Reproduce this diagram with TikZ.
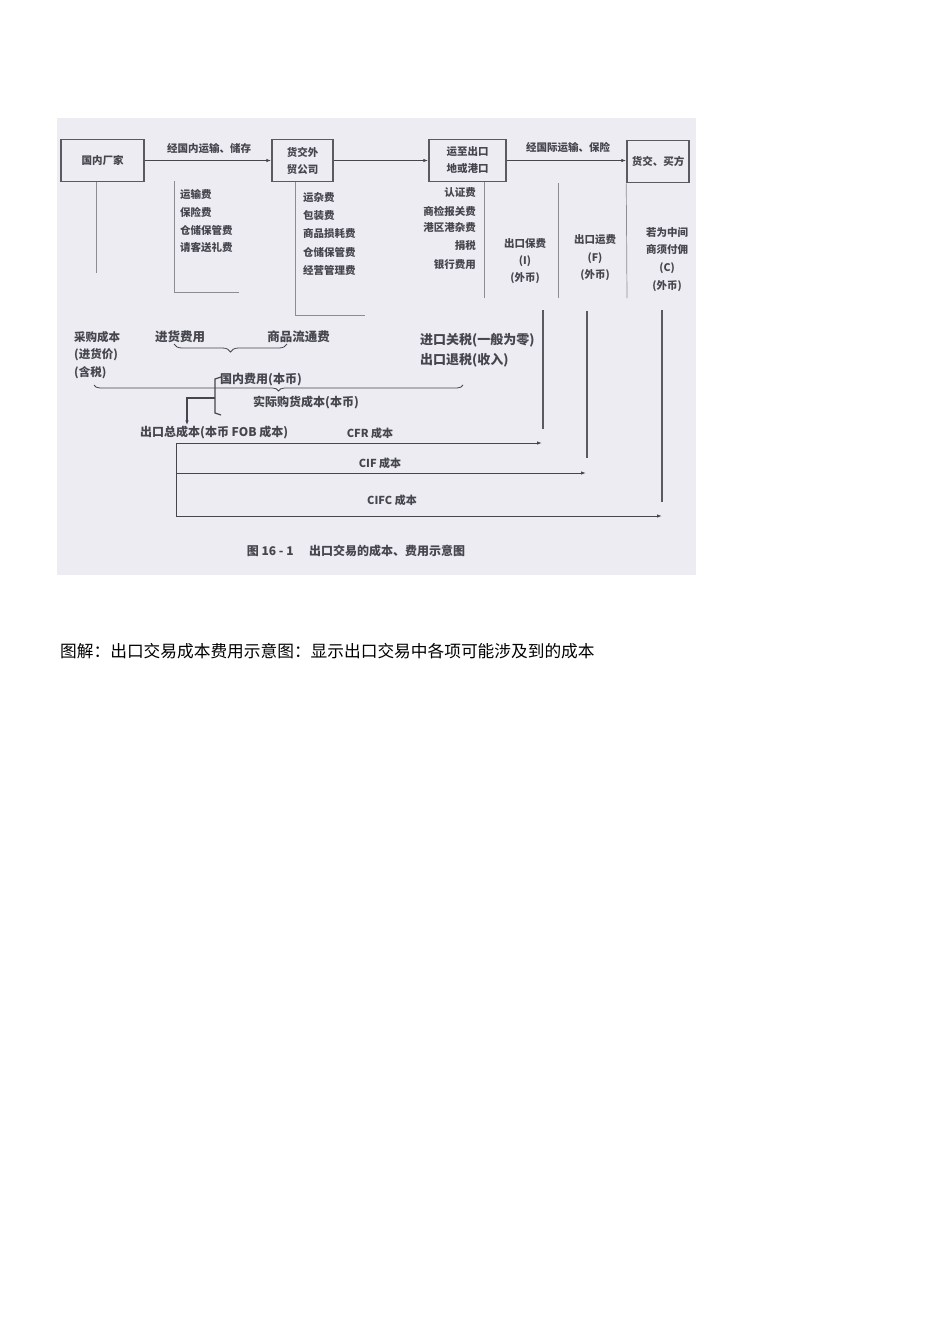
\documentclass[tikz,border=0pt]{standalone}
\usepackage{fontspec}
\setmainfont{Noto Sans CJK SC}
\usetikzlibrary{arrows.meta,decorations.pathreplacing}
\definecolor{bgc}{HTML}{EDECF3}
\definecolor{ink}{HTML}{46464E}
\definecolor{lineg}{HTML}{8C8C94}
\definecolor{thk}{HTML}{5A5A62}
\tikzset{
  box/.style={draw=thk, line width=1.5pt, minimum width=#1, minimum height=42pt, inner sep=0pt, align=center, text=ink, font=\bfseries\fontsize{10.5}{17}\selectfont},
  sm/.style={inner sep=0pt, text=ink, font=\bfseries\fontsize{10.5}{12}\selectfont},
  md/.style={inner sep=0pt, text=ink, font=\bfseries\fontsize{12}{14}\selectfont},
  thin/.style={draw=lineg, line width=0.7pt},
  heavy/.style={draw=thk, line width=1.6pt},
  arr/.style={draw=ink, line width=0.9pt, -{Latex[length=5pt,width=3.5pt]}},
  brc/.style={draw=ink, line width=0.8pt, decorate, decoration={brace, mirror, amplitude=#1}},
}
\begin{document}
\begin{tikzpicture}[x=1pt,y=-1pt]
\useasboundingbox (0,0) rectangle (950,1344);
\fill[white] (0,0) rectangle (950,1344);
\fill[bgc] (57,118) rectangle (696,575);

% boxes
\node[box=83pt] (A) at (102.5,160.5) {国内厂家};
\node[box=61pt] (B) at (302.5,160.5) {货交外\\贸公司};
\node[box=77pt] (C) at (467.5,160.5) {运至出口\\地或港口};
\node[box=62pt] (D) at (658,161.5) {货交、买方};

\draw[arr] (A.east) -- (B.west);
\draw[arr] (B.east) -- (C.west);
\draw[arr] (C.east) -- (D.west |- C.east);
\node[sm] (l1) at (209,149) {经国内运输、储存};
\node[sm] (l2) at (568,148) {经国际运输、保险};

% thin dividers
\coordinate (a1) at (96,273);
\draw[thin] (A.south -| a1) -- (a1);
\coordinate (b0) at (174,181); \coordinate (b1) at (174,292); \coordinate (b2) at (239,292);
\draw[thin] (b0) -- (b1) -- (b2);
\coordinate (c1) at (295,315); \coordinate (c2) at (365,315);
\draw[thin] (B.south -| c1) -- (c1) -- (c2);
\coordinate (d1) at (484,298);
\draw[thin] (C.south -| d1) -- (d1);
\coordinate (e0) at (558,183); \coordinate (e1) at (558,298);
\draw[thin] (e0) -- (e1);
\coordinate (f1) at (627,298);
\draw[thin] (D.south west) -- (f1);

% list 1
\node[sm, anchor=west] (p1) at (180,195) {运输费};
\node[sm, anchor=west] (p2) at (180,212) {保险费};
\node[sm, anchor=west] (p3) at (180,230) {仓储保管费};
\node[sm, anchor=west] (p4) at (180,247) {请客送礼费};
% list 2
\node[sm, anchor=west] (q1) at (303,198) {运杂费};
\node[sm, anchor=west] (q2) at (303,216) {包装费};
\node[sm, anchor=west] (q3) at (303,234) {商品损耗费};
\node[sm, anchor=west] (q4) at (303,252) {仓储保管费};
\node[sm, anchor=west] (q5) at (303,270) {经营管理费};
% list 3
\node[sm, anchor=east] (r1) at (476,193) {认证费};
\node[sm, anchor=east] (r2) at (476,211) {商检报关费};
\node[sm, anchor=east] (r3) at (476,228) {港区港杂费};
\node[sm, anchor=east] (r4) at (476,246) {捐税};
\node[sm, anchor=east] (r5) at (476,265) {银行费用};
% columns
\node[sm] (i1) at (525,244) {出口保费};
\node[sm] (i2) at (525,261) {(I)};
\node[sm] (i3) at (525,278) {(外币)};
\node[sm] (g1) at (595,240) {出口运费};
\node[sm] (g2) at (595,258) {(F)};
\node[sm] (g3) at (595,275) {(外币)};
\node[sm] (h1) at (667,233) {若为中间};
\node[sm] (h2) at (667,250) {商须付佣};
\node[sm] (h3) at (667,268) {(C)};
\node[sm] (h4) at (667,286) {(外币)};

% thick verticals
\coordinate (t1a) at (543,310); \coordinate (t1b) at (543,429);
\coordinate (t2a) at (587,311); \coordinate (t2b) at (587,458);
\coordinate (t3a) at (662,310); \coordinate (t3b) at (662,502);
\draw[heavy] (t1a) -- (t1b);
\draw[heavy] (t2a) -- (t2b);
\draw[heavy] (t3a) -- (t3b);

% lower texts
\node[md, anchor=west, font=\bfseries\fontsize{11.5}{13}\selectfont] (s1) at (74,337) {采购成本};
\node[md, anchor=west, font=\bfseries\fontsize{11.5}{13}\selectfont] (s2) at (74,355) {(进货价)};
\node[md, anchor=west, font=\bfseries\fontsize{11.5}{13}\selectfont] (s3) at (74,373) {(含税)};
\node[md, font=\bfseries\fontsize{12.5}{14}\selectfont] (u1) at (180,337) {进货费用};
\node[md, font=\bfseries\fontsize{12.5}{14}\selectfont] (u2) at (298.5,337) {商品流通费};
\coordinate (bra) at (174,344); \coordinate (brb) at (287,344);
\draw[brc=8pt] (bra) -- (brb);
\node[md, anchor=west, font=\bfseries\fontsize{13}{15}\selectfont] (v1) at (420,340) {进口关税(一般为零)};
\node[md, anchor=west, font=\bfseries\fontsize{13}{15}\selectfont] (v2) at (420,360) {出口退税(收入)};
\coordinate (bla) at (94,385); \coordinate (blb) at (463,385);
\draw[brc=6pt] (bla) -- (blb);
\node[md, anchor=west] (w1) at (220,380) {国内费用(本币)};
\node[md, anchor=west] (w2) at (253,402) {实际购货成本(本币)};
\coordinate (k1) at (221,377); \coordinate (k2) at (215,379);
\coordinate (k3) at (215,413); \coordinate (k4) at (221,415);
\draw[ink, line width=1.2pt] (k1) -- (k2) -- (k3) -- (k4);
\coordinate (m0) at (215,398); \coordinate (m1) at (187,398);
\node[md, anchor=west] (fob) at (140,432) {出口总成本(本币 FOB 成本)};
\draw[ink, line width=1.2pt, -{Latex[length=5pt,width=3.5pt]}] (m0) -- (m1) -- (m1 |- fob.north);

% cost arrows
\coordinate (o1) at (176,443); \coordinate (o2) at (176,473); \coordinate (o3) at (176,516);
\coordinate (x1) at (542,443); \coordinate (x2) at (586,473); \coordinate (x3) at (662,516);
\draw[ink, line width=0.9pt] (o1) -- (o3);
\draw[arr] (o1) -- (x1);
\draw[arr] (o2) -- (x2);
\draw[arr] (o3) -- (x3);
\node[sm, font=\bfseries\fontsize{11}{13}\selectfont] (n1) at (370,433) {CFR 成本};
\node[sm, font=\bfseries\fontsize{11}{13}\selectfont] (n2) at (380,463) {CIF 成本};
\node[sm, font=\bfseries\fontsize{11}{13}\selectfont] (n3) at (392,500) {CIFC 成本};

\node[sm, font=\bfseries\fontsize{12}{14}\selectfont] (cap) at (356,551) {图 16 - 1\hspace{1.3em}出口交易的成本、费用示意图};

\node[inner sep=0pt, anchor=west, text=black, font=\fontsize{16.7}{19}\selectfont] (cap2) at (60,651) {图解：出口交易成本费用示意图：显示出口交易中各项可能涉及到的成本};
\end{tikzpicture}
\end{document}
